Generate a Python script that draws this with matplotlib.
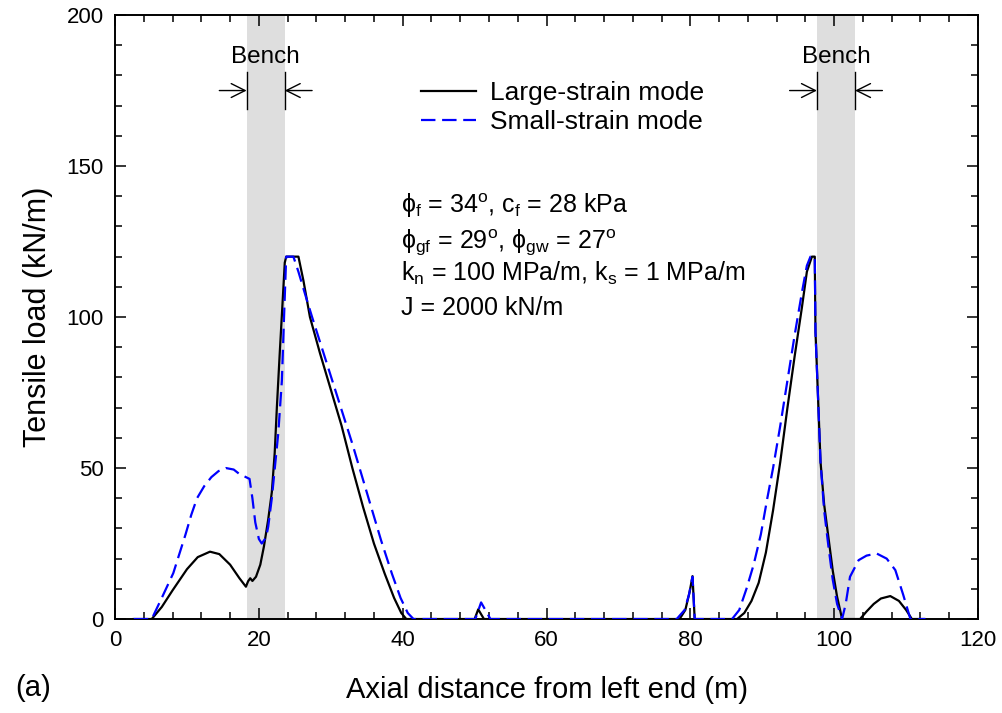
import matplotlib
matplotlib.use('Agg')
import matplotlib.pyplot as plt
from matplotlib.ticker import MultipleLocator

plt.rcParams['font.family'] = ['Liberation Sans', 'DejaVu Sans']
plt.rcParams['mathtext.fontset'] = 'custom'
plt.rcParams['mathtext.rm'] = 'Liberation Sans'
plt.rcParams['mathtext.it'] = 'Liberation Sans:italic'

# Large-strain mode (black solid)
large_x = [2.6, 5.1, 6.5, 8.0, 10.0, 11.5, 13.2, 14.5, 16.0, 17.3, 18.2, 18.5, 18.8, 19.1,
           19.6, 20.2, 20.7, 21.3, 21.8, 22.2, 22.5, 22.9, 23.3, 23.6, 23.8, 25.5, 26.2,
           27.1, 28.5, 30.0, 31.5, 33.0, 34.5, 36.0, 37.5, 38.8, 39.8, 40.5,
           50.0, 50.5, 51.3, 78.5, 79.3, 79.9, 80.3, 80.6,
           86.5, 87.5, 88.5, 89.5, 90.5, 91.5, 92.5, 93.5, 94.5, 95.5, 96.2, 96.9, 97.3,
           97.4, 98.1, 98.6, 99.2, 99.8, 100.4, 101.1, 103.6, 104.5, 105.5, 106.5, 107.8,
           109.0, 110.0, 110.8, 112.5]
large_y = [0, 0, 4, 9.5, 16.5, 20.5, 22.3, 21.5, 18, 13.5, 10.7, 12.5, 13.5, 12.6,
           14, 18, 24, 33, 42, 55, 70, 88, 105, 118, 120, 120, 112,
           100, 88, 76, 64, 50, 37, 25, 15, 7, 2, 0,
           0, 3.2, 0, 0, 3, 9, 14.2, 0,
           0, 2, 6, 12, 22, 36, 52, 70, 87, 103, 115, 120, 120,
           95, 52, 38, 27, 16, 7.4, 0, 0, 2.5, 5, 6.8, 7.6,
           6, 3, 0, 0]

# Small-strain mode (blue dashed)
small_x = [2.6, 5.1, 6.5, 8.1, 9.8, 10.6, 11.4, 12.4, 13.4, 14.4, 15.4, 16.5, 17.3, 18.1,
           18.7, 19.1, 19.5, 20.0, 20.4, 21.0, 21.3, 21.8, 22.3, 22.7, 23.2, 23.5, 23.8,
           24.8, 25.5, 26.5, 27.4, 29.0, 31.0, 33.0, 34.0, 35.5, 37.0, 38.5, 39.7, 40.7, 41.5,
           50.1, 50.9, 52.2, 78.1, 79.2, 79.8, 80.3, 80.6,
           85.8, 86.8, 87.8, 88.8, 89.8, 90.7, 91.5, 92.5, 93.5, 94.5, 95.5, 96.2, 96.7,
           97.3, 97.4, 98.1, 98.6, 99.2, 99.8, 100.4, 101.1, 101.6, 102.2, 103.4, 104.5,
           105.9, 107.3, 108.5, 109.6, 110.6, 112.7]
small_y = [0, 0, 7, 15.2, 28, 34.5, 40, 44, 47, 49, 50, 49.5, 48, 47.1,
           46.4, 40, 32, 26.5, 25, 27, 30.6, 40, 52, 61.6, 79, 100, 120,
           120, 115, 107, 100, 88, 73, 58, 50, 38, 26, 15, 7, 2, 0,
           0, 5.5, 0, 0, 3, 8, 14, 0,
           0, 3, 10, 18, 28, 40, 50, 64, 79, 94, 108, 117, 120,
           120, 95, 52, 36, 24, 13, 5, 0, 5, 14, 19.5, 21,
           21.7, 20, 16.2, 8, 0, 0]

benches = [(18.3, 23.6), (97.6, 102.9)]

fig = plt.figure(figsize=(10.03, 7.13), dpi=100)
ax = fig.add_axes([0.1147, 0.1318, 0.8604, 0.8471])

for b0, b1 in benches:
    ax.axvspan(b0, b1, color='#dedede', lw=0, zorder=0)
    ax.plot([b0, b0], [169, 181], color='black', lw=1)
    ax.plot([b1, b1], [169, 181], color='black', lw=1)
    ax.annotate('', xy=(b0, 175), xytext=(b0 - 3.8, 175),
                arrowprops=dict(arrowstyle='->', lw=1, color='black',
                                mutation_scale=25, shrinkA=0, shrinkB=0))
    ax.annotate('', xy=(b1, 175), xytext=(b1 + 3.8, 175),
                arrowprops=dict(arrowstyle='->', lw=1, color='black',
                                mutation_scale=25, shrinkA=0, shrinkB=0))
    ax.text((b0 + b1) / 2, 186, 'Bench', ha='center', va='center', fontsize=17.5)

ax.plot(large_x, large_y, color='black', lw=1.6, label='Large-strain mode', zorder=3)
ax.plot(small_x, small_y, color='blue', lw=1.6, linestyle=(0, (6.5, 3)),
        label='Small-strain mode', zorder=4)

ax.legend(loc='upper left', bbox_to_anchor=(0.3546, 0.891), frameon=False,
          fontsize=19, handlelength=2.1, handletextpad=0.5, borderpad=0,
          borderaxespad=0, labelspacing=0.2)

lines = [r'$\mathrm{\phi_f}$ = 34$^\mathrm{o}$, c$_\mathrm{f}$ = 28 kPa',
         r'$\mathrm{\phi_{gf}}$ = 29$^\mathrm{o}$, $\mathrm{\phi_{gw}}$ = 27$^\mathrm{o}$',
         r'k$_\mathrm{n}$ = 100 MPa/m, k$_\mathrm{s}$ = 1 MPa/m',
         'J = 2000 kN/m']
ys = [137, 124.5, 114.5, 103]
for s, yy in zip(lines, ys):
    ax.text(39.8, yy, s, fontsize=18, va='center', ha='left')

ax.set_xlim(0, 120)
ax.set_ylim(0, 200)
ax.xaxis.set_major_locator(MultipleLocator(20))
ax.xaxis.set_minor_locator(MultipleLocator(4))
ax.yaxis.set_major_locator(MultipleLocator(50))
ax.yaxis.set_minor_locator(MultipleLocator(10))
ax.tick_params(which='both', direction='in', top=True, right=True, labelsize=16, width=1.1)
ax.tick_params(which='major', length=8, pad=8)
ax.tick_params(which='minor', length=5)
for sp in ax.spines.values():
    sp.set_linewidth(1.4)

ax.set_xlabel('Axial distance from left end (m)', fontsize=21, labelpad=18)
ax.set_ylabel('Tensile load (kN/m)', fontsize=22, labelpad=10)
fig.text(0.015, 0.015, '(a)', fontsize=21, ha='left', va='bottom')

fig.savefig('out.png', dpi=100)
